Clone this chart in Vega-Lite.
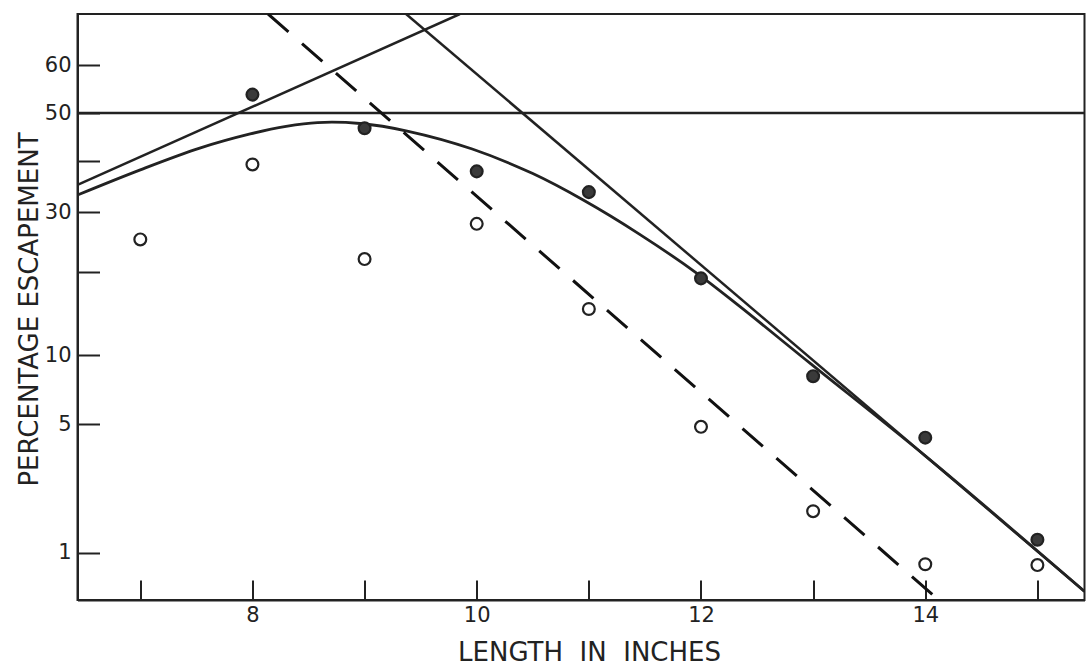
{
  "$schema": "https://vega.github.io/schema/vega-lite/v6.json",
  "width": 1007,
  "height": 586,
  "autosize": {"type": "none"},
  "padding": {"left": 77.5, "top": 14, "right": 1.5, "bottom": 71},
  "background": "white",
  "config": {
    "view": {"stroke": "#222", "strokeWidth": 2},
    "font": "DejaVu Sans"
  },
  "datasets": {
    "points": [
      {"len": 8, "pct": 53.9, "type": "filled"},
      {"len": 9, "pct": 46.8, "type": "filled"},
      {"len": 10, "pct": 37.9, "type": "filled"},
      {"len": 11, "pct": 33.8, "type": "filled"},
      {"len": 12, "pct": 19.1, "type": "filled"},
      {"len": 13, "pct": 8.2, "type": "filled"},
      {"len": 14, "pct": 4.3, "type": "filled"},
      {"len": 15, "pct": 1.2, "type": "filled"},
      {"len": 7, "pct": 25.2, "type": "open"},
      {"len": 8, "pct": 39.3, "type": "open"},
      {"len": 9, "pct": 22.0, "type": "open"},
      {"len": 10, "pct": 27.9, "type": "open"},
      {"len": 11, "pct": 15.0, "type": "open"},
      {"len": 12, "pct": 4.85, "type": "open"},
      {"len": 13, "pct": 1.76, "type": "open"},
      {"len": 14, "pct": 0.85, "type": "open"},
      {"len": 15, "pct": 0.84, "type": "open"}
    ],
    "lines": [
      {"len": 6.44, "pct": 50, "line": "half"},
      {"len": 15.42, "pct": 50, "line": "half"},
      {"len": 6.44, "pct": 35.2, "line": "rise"},
      {"len": 9.85, "pct": 70, "line": "rise"},
      {"len": 9.37, "pct": 70, "line": "steep"},
      {"len": 15.42, "pct": 0.57, "line": "steep"}
    ],
    "curve": [
      {"len": 6.44, "pct": 33.25, "line": "curve"},
      {"len": 7.0, "pct": 38.21, "line": "curve"},
      {"len": 7.53, "pct": 42.66, "line": "curve"},
      {"len": 7.98, "pct": 45.62, "line": "curve"},
      {"len": 8.3, "pct": 47.21, "line": "curve"},
      {"len": 8.58, "pct": 48.01, "line": "curve"},
      {"len": 8.96, "pct": 47.81, "line": "curve"},
      {"len": 9.38, "pct": 46.22, "line": "curve"},
      {"len": 9.96, "pct": 42.47, "line": "curve"},
      {"len": 10.5, "pct": 37.45, "line": "curve"},
      {"len": 10.95, "pct": 32.28, "line": "curve"},
      {"len": 11.45, "pct": 26.11, "line": "curve"},
      {"len": 11.97, "pct": 19.77, "line": "curve"},
      {"len": 12.34, "pct": 15.39, "line": "curve"},
      {"len": 12.98, "pct": 9.23, "line": "curve"},
      {"len": 14.0, "pct": 3.49, "line": "curve"},
      {"len": 15.42, "pct": 0.57, "line": "curve"}
    ],
    "dashed": [
      {"len": 8.14, "pct": 70, "line": "dashed"},
      {"len": 14.12, "pct": 0.5, "line": "dashed"}
    ]
  },
  "encoding": {
    "x": {
      "field": "len",
      "type": "quantitative",
      "scale": {"domain": [6.44, 15.42], "nice": false, "zero": false},
      "axis": {
        "title": "LENGTH\u00a0 IN\u00a0 INCHES",
        "values": [7, 8, 9, 10, 11, 12, 13, 14, 15],
        "labelExpr": "datum.value % 2 == 0 ? datum.label : ''",
        "grid": false,
        "tickSize": -20,
        "tickWidth": 2,
        "tickColor": "#222",
        "domainColor": "#222",
        "domainWidth": 2,
        "labelPadding": 24,
        "labelFontSize": 21,
        "labelColor": "#222",
        "labelFont": "DejaVu Sans",
        "titleFont": "DejaVu Sans",
        "titleFontSize": 26,
        "titleFontWeight": "normal",
        "titleColor": "#222",
        "titleX": 511.5,
        "titleY": 60,
        "titleBaseline": "alphabetic"
      }
    },
    "y": {
      "field": "z",
      "type": "quantitative",
      "scale": {"domain": [-2.5758, 0.5244], "nice": false, "zero": false},
      "axis": {
        "title": "PERCENTAGE ESCAPEMENT",
        "values": [0.2533, 0, -0.2533, -0.5244, -0.8416, -1.2816, -1.6449, -2.3263],
        "labelExpr": "(abs(datum.value + 0.2533) < 0.01 || abs(datum.value + 0.8416) < 0.01) ? '' : format(cumulativeNormal(datum.value) * 100, '.0f')",
        "grid": false,
        "tickSize": -22,
        "tickWidth": 2,
        "tickColor": "#222",
        "domainColor": "#222",
        "domainWidth": 2,
        "labelPadding": 28.5,
        "labelFontSize": 21,
        "labelColor": "#222",
        "labelFont": "DejaVu Sans",
        "titleFont": "DejaVu Sans",
        "titleFontSize": 26,
        "titleFontWeight": "normal",
        "titleColor": "#222",
        "titleX": -40,
        "titleY": 295,
        "titleBaseline": "alphabetic"
      }
    }
  },
  "layer": [
    {
      "data": {"name": "lines"},
      "transform": [{"calculate": "quantileNormal(datum.pct / 100)", "as": "z"}],
      "mark": {"type": "line", "clip": true, "color": "#222", "strokeWidth": 2.5},
      "encoding": {"detail": {"field": "line", "type": "nominal"}}
    },
    {
      "data": {"name": "curve"},
      "transform": [{"calculate": "quantileNormal(datum.pct / 100)", "as": "z"}],
      "mark": {"type": "line", "clip": true, "color": "#222", "strokeWidth": 2.8, "interpolate": "catmull-rom"},
      "encoding": {"detail": {"field": "line", "type": "nominal"}}
    },
    {
      "data": {"name": "dashed"},
      "transform": [{"calculate": "quantileNormal(datum.pct / 100)", "as": "z"}],
      "mark": {"type": "line", "clip": true, "color": "#111", "strokeWidth": 3, "strokeDash": [27, 18]},
      "encoding": {"detail": {"field": "line", "type": "nominal"}}
    },
    {
      "data": {"name": "points"},
      "transform": [{"calculate": "quantileNormal(datum.pct / 100)", "as": "z"}],
      "mark": {"type": "point", "shape": "circle", "filled": true, "size": 140, "stroke": "#222", "strokeWidth": 2.2, "opacity": 1},
      "encoding": {
        "fill": {
          "field": "type",
          "type": "nominal",
          "scale": {"domain": ["filled", "open"], "range": ["#3a3a3a", "#ffffff"]},
          "legend": null
        }
      }
    }
  ]
}
